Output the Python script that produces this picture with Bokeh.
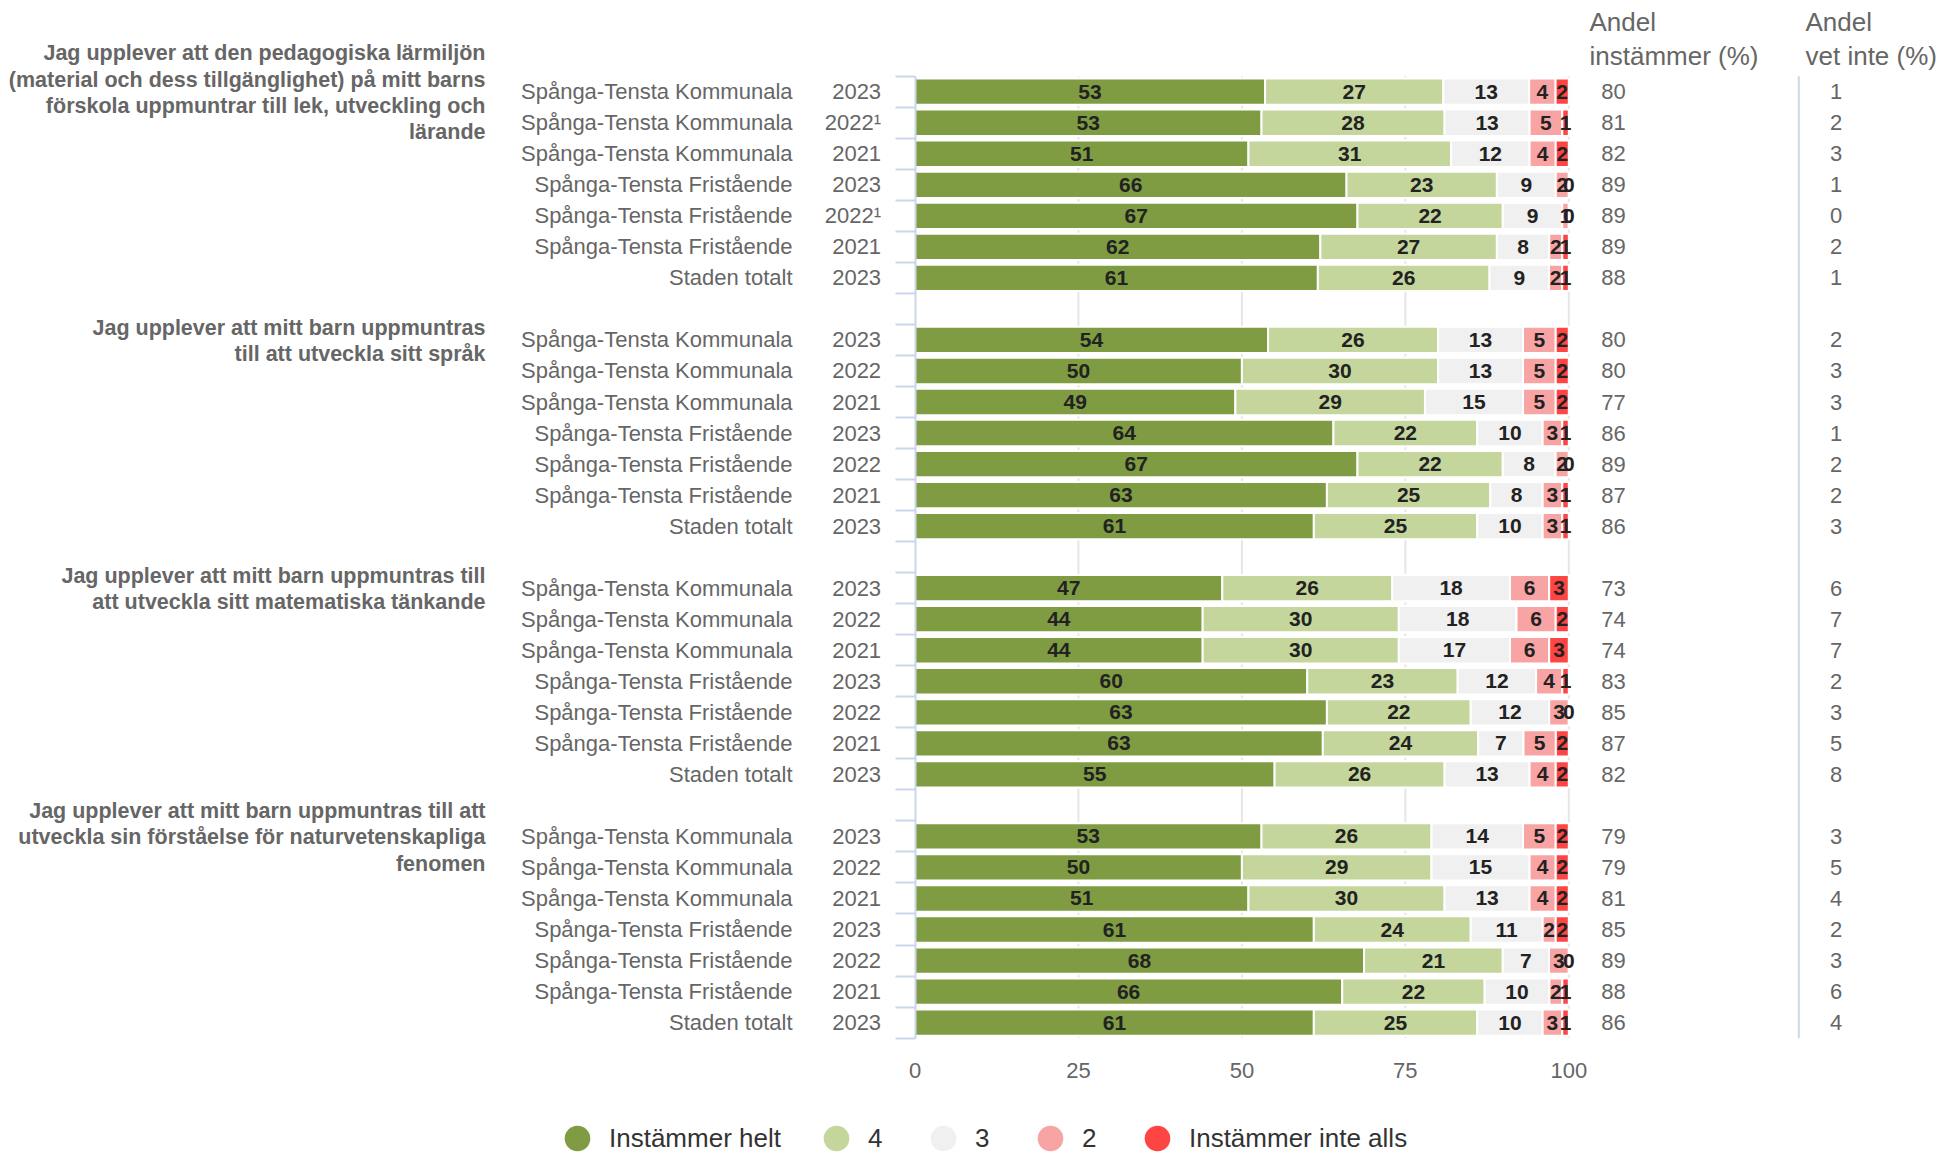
from bokeh.plotting import figure
from bokeh.models import (Range1d, LinearAxis, FixedTicker, CustomJSTickFormatter,
                          Legend, LegendItem)
from bokeh.core.properties import value
from bokeh.embed import file_html
from bokeh.resources import INLINE

FONT = "Liberation Sans"

# ---------------- data ----------------
questions = [
    ["Jag upplever att den pedagogiska lärmiljön",
     "(material och dess tillgänglighet) på mitt barns",
     "förskola uppmuntrar till lek, utveckling och",
     "lärande"],
    ["Jag upplever att mitt barn uppmuntras",
     "till att utveckla sitt språk"],
    ["Jag upplever att mitt barn uppmuntras till",
     "att utveckla sitt matematiska tänkande"],
    ["Jag upplever att mitt barn uppmuntras till att",
     "utveckla sin förståelse för naturvetenskapliga",
     "fenomen"],
]
units = ["Spånga-Tensta Kommunala", "Spånga-Tensta Kommunala", "Spånga-Tensta Kommunala",
         "Spånga-Tensta Fristående", "Spånga-Tensta Fristående", "Spånga-Tensta Fristående",
         "Staden totalt"]
years = [
    ["2023", "2022¹", "2021", "2023", "2022¹", "2021", "2023"],
    ["2023", "2022", "2021", "2023", "2022", "2021", "2023"],
    ["2023", "2022", "2021", "2023", "2022", "2021", "2023"],
    ["2023", "2022", "2021", "2023", "2022", "2021", "2023"],
]
series_names = ["Instämmer helt", "4", "3", "2", "Instämmer inte alls"]
series_colors = ["#7F9C43", "#C4D69C", "#F0F0F0", "#F9A4A4", "#FF4444"]

helt = [[53, 53, 51, 66, 67, 62, 61],
        [54, 50, 49, 64, 67, 63, 61],
        [47, 44, 44, 60, 63, 63, 55],
        [53, 50, 51, 61, 68, 66, 61]]
s4 = [[27, 28, 31, 23, 22, 27, 26],
      [26, 30, 29, 22, 22, 25, 25],
      [26, 30, 30, 23, 22, 24, 26],
      [26, 29, 30, 24, 21, 22, 25]]
s3 = [[13, 13, 12, 9, 9, 8, 9],
      [13, 13, 15, 10, 8, 8, 10],
      [18, 18, 17, 12, 12, 7, 13],
      [14, 15, 13, 11, 7, 10, 10]]
s2 = [[4, 5, 4, 2, 1, 2, 2],
      [5, 5, 5, 3, 2, 3, 3],
      [6, 6, 6, 4, 3, 5, 4],
      [5, 4, 4, 2, 3, 2, 3]]
s1 = [[2, 1, 2, 0, 0, 1, 1],
      [2, 2, 2, 1, 0, 1, 1],
      [3, 2, 3, 1, 0, 2, 2],
      [2, 2, 2, 2, 0, 1, 1]]
andel_instammer = [[80, 81, 82, 89, 89, 89, 88],
                   [80, 80, 77, 86, 89, 87, 86],
                   [73, 74, 74, 83, 85, 87, 82],
                   [79, 79, 81, 85, 89, 88, 86]]
andel_vet_inte = [[1, 2, 3, 1, 0, 2, 1],
                  [2, 3, 3, 1, 2, 2, 3],
                  [6, 7, 7, 2, 3, 5, 8],
                  [3, 5, 4, 2, 3, 6, 4]]
x_ticks = [0, 25, 50, 75, 100]
header_instammer = ["Andel", "instämmer (%)"]
header_vet_inte = ["Andel", "vet inte (%)"]

series = [helt, s4, s3, s2, s1]

# ---------------- layout helpers (page pixels -> data coords) ----------------
W, H, OFF = 1940, 1154, 0
X0_PX, X100_PX = 914.5, 1568.3
PXU = (X100_PX - X0_PX) / 100.0
ROW0_PX, ROW_PX = 91.2, 31.03
GROUP_STRIDE = 8            # 7 rows + one empty row between groups
N_ROWS = len(questions) * GROUP_STRIDE - 1


def xd(px):
    return (px - X0_PX) / PXU


def yd(py):
    return (py - ROW0_PX) / ROW_PX


p = figure(width=W, height=H, output_backend="svg", toolbar_location=None,
           x_range=Range1d(xd(OFF), xd(OFF + W)),
           y_range=Range1d(yd(OFF + H), yd(OFF)),
           x_axis_location=None, y_axis_location=None,
           min_border=0, outline_line_color=None)
p.background_fill_color = "white"
p.border_fill_color = "white"
p.xgrid.visible = False
p.ygrid.visible = False

# grid lines (limited to the plot area)
grid_ticks = x_ticks[1:]
p.segment(x0=grid_ticks, x1=grid_ticks, y0=[-0.5] * len(grid_ticks),
          y1=[N_ROWS - 0.5] * len(grid_ticks), line_color="#E6E6E6", line_width=2)

# stacked (percent) bars
rows_all = []
for g in range(len(questions)):
    for i in range(len(units)):
        rows_all.append((g, i, g * GROUP_STRIDE + i))

label_x, label_y, label_t = [], [], []
for k, (ser, color) in enumerate(zip(series, series_colors)):
    ys, lefts, rights = [], [], []
    for g, i, r in rows_all:
        vals = [s[g][i] for s in series]
        tot = float(sum(vals))
        left = sum(vals[:k]) / tot * 100
        right = sum(vals[:k + 1]) / tot * 100
        ys.append(r)
        lefts.append(left)
        rights.append(right)
        label_x.append((left + right) / 2)
        label_y.append(r)
        label_t.append(str(ser[g][i]))
    p.hbar(y=ys, left=lefts, right=rights, height=0.848, fill_color=color,
           line_color="white", line_width=2)

p.text(x=label_x, y=label_y, text=label_t, text_align="center", text_baseline="middle",
       text_font=value(FONT), text_font_size="21px", text_font_style="bold",
       text_color="#222222")

# category & year labels, side columns
cy, cu, cyr, cai, cvi = [], [], [], [], []
for g, i, r in rows_all:
    cy.append(r)
    cu.append(units[i])
    cyr.append(years[g][i])
    cai.append(str(andel_instammer[g][i]))
    cvi.append(str(andel_vet_inte[g][i]))

common = dict(text_baseline="middle", text_font=value(FONT), text_font_size="22px",
              text_color="#666666")
p.text(x=[xd(792)] * len(cy), y=cy, text=cu, text_align="right", **common)
p.text(x=[xd(880.6)] * len(cy), y=cy, text=cyr, text_align="right", **common)
p.text(x=[xd(1613)] * len(cy), y=cy, text=cai, text_align="center", **common)
p.text(x=[xd(1835.7)] * len(cy), y=cy, text=cvi, text_align="center", **common)

# headers
hdr_y = [yd(21.7), yd(55)]
p.text(x=[xd(1589)] * 2, y=hdr_y, text=header_instammer, text_align="left",
       text_baseline="middle", text_font=value(FONT), text_font_size="26px",
       text_color="#666666")
p.text(x=[xd(1805)] * 2, y=hdr_y, text=header_vet_inte, text_align="left",
       text_baseline="middle", text_font=value(FONT), text_font_size="26px",
       text_color="#666666")

# question titles
tx, ty, tt = [], [], []
LINE = 26.3 / ROW_PX
for g, lines in enumerate(questions):
    n = len(lines)
    for j, line in enumerate(lines):
        tx.append(xd(485))
        ty.append(g * GROUP_STRIDE + 1.0 / ROW_PX + (j - (n - 1) / 2.0) * LINE)
        tt.append(line)
p.text(x=tx, y=ty, text=tt, text_align="right", text_baseline="middle",
       text_font=value(FONT), text_font_size="21.5px", text_font_style="bold",
       text_color="#666666")

# separator line between the side columns
p.segment(x0=[xd(1798.3)], x1=[xd(1798.3)], y0=[-0.5], y1=[N_ROWS - 0.5],
          line_color="#CCD6EB", line_width=2)

# axes
yaxis = LinearAxis(fixed_location=0,
                   ticker=FixedTicker(ticks=[r - 0.5 for r in range(N_ROWS + 1)]),
                   bounds=(-0.5, N_ROWS - 0.5),
                   axis_line_color="#CCD6EB", axis_line_width=2,
                   major_tick_line_color="#CCD6EB", major_tick_line_width=2,
                   major_tick_out=20, major_tick_in=0, minor_tick_line_color=None,
                   formatter=CustomJSTickFormatter(code="return ''"))
p.add_layout(yaxis, "left")

xaxis = LinearAxis(fixed_location=N_ROWS - 0.5, ticker=FixedTicker(ticks=x_ticks),
                   bounds=(0, 100), axis_line_color=None, major_tick_line_color=None,
                   minor_tick_line_color=None, major_tick_out=0, major_tick_in=0,
                   major_label_standoff=25, major_label_text_font=FONT,
                   major_label_text_font_size="22px", major_label_text_color="#666666")
p.add_layout(xaxis, "below")

# legend (one hidden NaN point per series so the legend can draw its symbol)
items = []
for name, color in zip(series_names, series_colors):
    r = p.scatter(x=[float("nan")], y=[float("nan")], marker="circle", size=10,
                  fill_color=color, line_color=None)
    items.append(LegendItem(label=name, renderers=[r]))
legend = Legend(items=items, orientation="horizontal", location=(545, -16),
                glyph_width=64, glyph_height=64, label_standoff=0, spacing=23,
                padding=0, margin=0, border_line_color=None, background_fill_alpha=0,
                label_text_font=FONT, label_text_font_size="26px",
                label_text_color="#333333")
p.add_layout(legend, "center")

open("out.html", "w").write(file_html(p, INLINE))
